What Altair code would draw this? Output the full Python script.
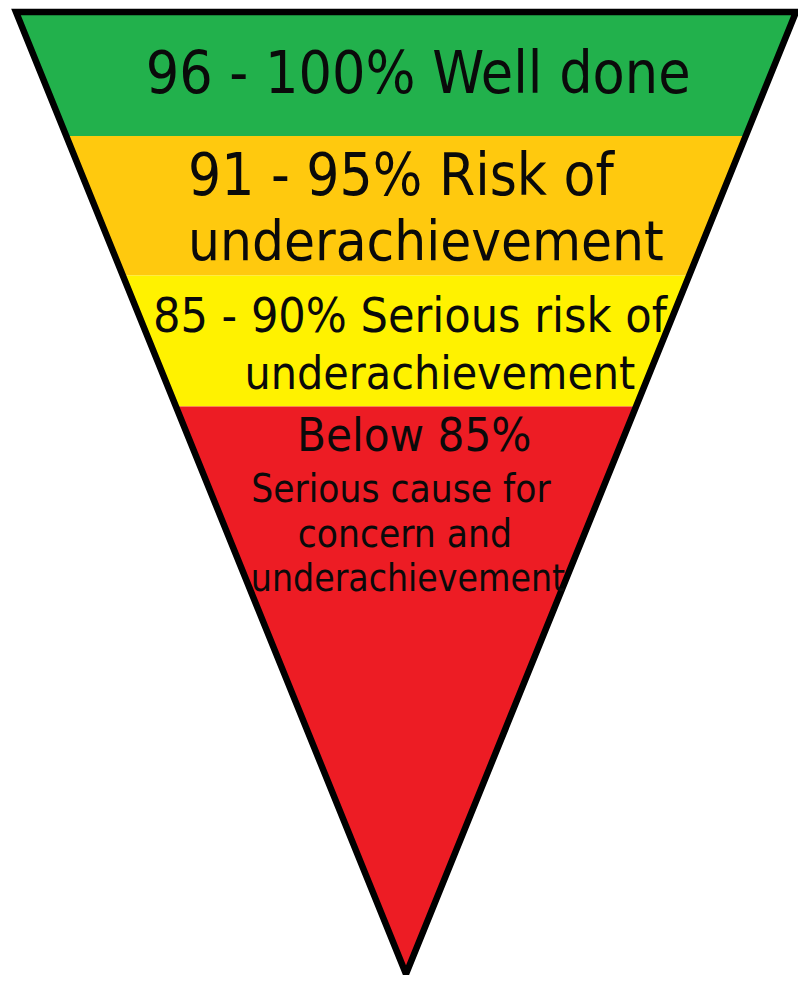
import altair as alt
import pandas as pd

# ---- data ----
bands = ["96 - 100%", "91 - 95%", "85 - 90%", "Below 85%"]
band_share = [12.9, 14.5, 13.6, 59.0]          # share of funnel depth (%)
band_colors = ["#22B14C", "#FFC90E", "#FFF200", "#ED1C24"]

label_lines = [
    "96 - 100% Well done",
    "91 - 95% Risk of",
    "underachievement",
    "85 - 90% Serious risk of",
    "underachievement",
    "Below 85%",
    "Serious cause for",
    "concern and",
    "underachievement",
]
# layout of labels (depth in funnel %, horizontal offset in half-widths, font px)
label_depth = [6.55, 17.26, 24.0, 31.8, 37.7, 44.2, 49.7, 54.4, 59.0]
label_xoff = [0.031, -0.013, 0.051, 0.010, 0.087, 0.021, -0.013, -0.003, 0.005]
label_size = [58.5, 58, 56, 48, 46, 47, 38.5, 38.5, 37]

# ---- build tables ----
rows = []
top = 0.0
for b, s in zip(bands, band_share):
    bottom = top + s
    for d in (top, bottom):
        hw = 1 - d / 100.0
        rows.append({"band": b, "depth": d, "left": -hw, "right": hw})
    top = bottom
band_df = pd.DataFrame(rows)

outline_df = pd.DataFrame({
    "x": [0, 1, 0, -1, 0],
    "depth": [0, 0, 100, 0, 0],
    "order": [0, 1, 2, 3, 4],
})

text_df = pd.DataFrame({
    "text": label_lines,
    "depth": label_depth,
    "x": label_xoff,
    "size": label_size,
})

xscale = alt.Scale(domain=[-1.0205, 1.0051], nice=False, zero=False)
yscale = alt.Scale(domain=[-0.4158, 100.104], nice=False, zero=False, reverse=True)

areas = alt.Chart(band_df).mark_area(orient="horizontal", opacity=1).encode(
    y=alt.Y("depth:Q", scale=yscale, axis=None),
    x=alt.X("left:Q", scale=xscale, axis=None),
    x2="right:Q",
    color=alt.Color("band:N", scale=alt.Scale(domain=bands, range=band_colors), legend=None),
    detail="band:N",
)

outline = alt.Chart(outline_df).mark_line(
    color="black", strokeWidth=6.5, strokeJoin="miter", strokeMiterLimit=10
).encode(
    x=alt.X("x:Q", scale=xscale, axis=None),
    y=alt.Y("depth:Q", scale=yscale, axis=None),
    order="order:Q",
)

texts = alt.Chart(text_df).mark_text(
    font="DejaVu Sans Condensed", color="#0a0a0a", baseline="middle", align="center"
).encode(
    x=alt.X("x:Q", scale=xscale, axis=None),
    y=alt.Y("depth:Q", scale=yscale, axis=None),
    text="text:N",
    size=alt.Size("size:Q", scale=None, legend=None),
)

chart = alt.layer(areas, outline, texts).properties(
    width=790, height=967, autosize=alt.AutoSizeParams(type="none"), padding=0,
    background="white",
).configure_view(stroke=None)

chart.save("out.html", embed_options={"renderer": "svg", "actions": False})
